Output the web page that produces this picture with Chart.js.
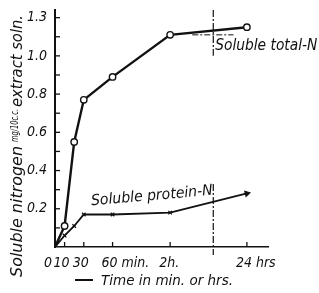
<!DOCTYPE html>
<html><head><meta charset="utf-8">
<script src="https://cdn.jsdelivr.net/npm/chart.js@4"></script>
<style>html,body{margin:0;padding:0;background:#fff}#w{width:319px;height:293px}</style>
</head><body><div id="w"><canvas id="c"></canvas></div>
<script>
// ---- data (time in minutes) ----
const times = [0, 10, 20, 30, 60, 120, 1440];
const totalN = [0, 0.11, 0.55, 0.77, 0.89, 1.11, 1.15];
const proteinN = [0, 0.06, 0.11, 0.17, 0.17, 0.18, 0.28];
const xTickTimes = [0, 10, 30, 60, 120, 1440];
const xTickLabels = ['0', '10', '30', '60 min.', '2h.', '24 hrs'];
const yTickValues = [0.2, 0.4, 0.6, 0.8, 1.0, 1.2];
const yTickLabels = ['0.2', '0.4', '0.6', '0.8', '1.0', '1.3'];
const extrapTimes = [500, 1210];
const extrapValue = [1.11, 1.11];
const breakTime = 862;

// broken time axis: linear to 2h, compressed afterwards
function fwd(t){ return t <= 120 ? t : 120 + (t - 120) * 80 / 1320; }

const FONT = '"Liberation Sans Narrow","DejaVu Sans Condensed","Liberation Sans",sans-serif';

function fitText(ctx, text, x, y, width, size, align){
  ctx.save();
  ctx.font = 'italic ' + size + 'px ' + FONT;
  const w = ctx.measureText(text).width;
  const s = width / w;
  ctx.translate(x, y);
  ctx.scale(s, 1);
  ctx.textAlign = 'left';
  ctx.fillText(text, align === 'right' ? -w : 0, 0);
  ctx.restore();
}

function noPad(s){ s.paddingTop = 0; s.paddingBottom = 0; s.paddingLeft = 0; s.paddingRight = 0; }

const deco = {
  id: 'deco',
  afterDraw(chart){
    const ctx = chart.ctx, xs = chart.scales.x, ys = chart.scales.y, a = chart.chartArea;
    ctx.save();
    ctx.strokeStyle = '#111'; ctx.fillStyle = '#111';
    // inside ticks
    ctx.lineWidth = 1.3;
    for (let v = 1; v <= 12; v++){
      const py = ys.getPixelForValue(v / 10);
      ctx.beginPath(); ctx.moveTo(a.left, py); ctx.lineTo(a.left + 5, py); ctx.stroke();
    }
    xTickTimes.forEach(t => {
      if (t === 0) return;
      const px = xs.getPixelForValue(fwd(t));
      ctx.beginPath(); ctx.moveTo(px, a.bottom); ctx.lineTo(px, a.bottom - 5); ctx.stroke();
    });
    // break line
    const bx = xs.getPixelForValue(fwd(breakTime));
    ctx.lineWidth = 1.2; ctx.setLineDash([7, 2, 2, 2]);
    ctx.beginPath(); ctx.moveTo(bx, ys.getPixelForValue(1.24)); ctx.lineTo(bx, ys.getPixelForValue(1.0)); ctx.stroke();
    ctx.beginPath(); ctx.moveTo(bx, ys.getPixelForValue(0.33)); ctx.lineTo(bx, a.bottom + 8); ctx.stroke();
    ctx.setLineDash([]);
    // series labels
    ctx.textBaseline = 'alphabetic';
    fitText(ctx, 'Soluble total-N', bx + 2, ys.getPixelForValue(1.03), 102, 15);
    ctx.save();
    ctx.translate(xs.getPixelForValue(fwd(38)), ys.getPixelForValue(0.218));
    ctx.rotate(-5 * Math.PI / 180);
    fitText(ctx, 'Soluble protein-N', 0, 0, 122, 15);
    ctx.restore();
    // y title
    ctx.save();
    ctx.translate(22, 277);
    ctx.rotate(-Math.PI / 2);
    fitText(ctx, 'Soluble nitrogen', 0, 0, 131, 15);
    fitText(ctx, 'mg/10c.c.', 135, -4, 33, 10);
    fitText(ctx, 'extract soln.', 170, 0, 92, 15);
    ctx.restore();
    // x title
    ctx.lineWidth = 2;
    ctx.beginPath(); ctx.moveTo(75, 280); ctx.lineTo(93, 280); ctx.stroke();
    fitText(ctx, 'Time in min. or hrs.', 101, 285, 132, 14);
    ctx.restore();
  }
};

new Chart(document.getElementById('c'), {
  type: 'line',
  data: {
    datasets: [
      {
        data: times.map((t, i) => ({x: fwd(t), y: totalN[i]})),
        borderColor: '#111', borderWidth: 2.4, pointStyle: 'circle',
        pointRadius: times.map((t, i) => i === 0 ? 0 : 3.2),
        pointBackgroundColor: '#fff', pointBorderColor: '#111', pointBorderWidth: 1.4,
        tension: 0
      },
      {
        data: times.map((t, i) => ({x: fwd(t), y: proteinN[i]})),
        borderColor: '#111', borderWidth: 1.8,
        pointStyle: times.map((t, i) => i === times.length - 1 ? 'triangle' : 'crossRot'),
        pointRotation: times.map((t, i) => i === times.length - 1 ? 76 : 0),
        pointRadius: times.map((t, i) => i === 0 ? 0 : (i === times.length - 1 ? 3 : 2.5)),
        pointBackgroundColor: '#111', pointBorderColor: '#111', pointBorderWidth: 1.2,
        tension: 0
      },
      {
        data: extrapTimes.map((t, i) => ({x: fwd(t), y: extrapValue[i]})),
        borderColor: '#111', borderWidth: 1, borderDash: [6, 2, 2, 2], pointRadius: 0
      }
    ]
  },
  options: {
    responsive: true, maintainAspectRatio: false, animation: false, events: [],
    layout: {padding: {left: 0, top: 10, right: 51, bottom: 0}},
    plugins: {legend: {display: false}, tooltip: {enabled: false}},
    scales: {
      x: {
        type: 'linear', min: 0, max: 222,
        afterFit(s){ s.height = 46; noPad(s); },
        afterBuildTicks(s){ s.ticks = xTickTimes.map(t => ({value: fwd(t)})); },
        grid: {display: false, drawTicks: false},
        border: {display: true, color: '#111', width: 1.6},
        ticks: {
          autoSkip: false, maxRotation: 0, align: 'start', labelOffset: -11, padding: 8,
          color: '#111', font: {family: FONT, size: 14, style: 'italic'},
          callback(v, i){ return xTickLabels[i]; }
        }
      },
      y: {
        type: 'linear', min: 0, max: 1.24,
        afterFit(s){ s.width = 55; noPad(s); },
        afterBuildTicks(s){ s.ticks = yTickValues.map(v => ({value: v})); },
        grid: {display: false, drawTicks: false},
        border: {display: true, color: '#111', width: 2},
        ticks: {
          autoSkip: false, padding: 8, color: '#111',
          font: {family: FONT, size: 14, style: 'italic'},
          callback(v, i){ return yTickLabels[i]; }
        }
      }
    }
  },
  plugins: [deco]
});
</script></body></html>
